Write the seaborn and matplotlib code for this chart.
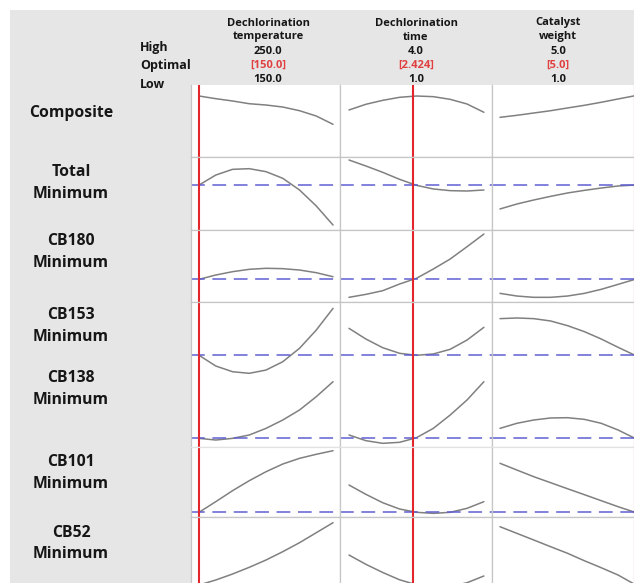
"""
Response optimizer style chart: optimal settings for the dechlorination factors.
"""

import matplotlib
matplotlib.use("Agg")
import matplotlib.pyplot as plt
import seaborn as sns
from matplotlib.patches import Rectangle

sns.set_style("white")
plt.rcParams['font.family'] = ['Open Sans', 'DejaVu Sans']

# Factors
factor_names = ["Dechlorination\ntemperature", "Dechlorination\ntime", "Catalyst\nweight"]
factor_high = ["250.0", "4.0", "5.0"]
factor_opt = ["[150.0]", "[2.424]", "[5.0]"]
factor_low = ["150.0", "1.0", "1.0"]
optimal_x = [150.0, 2.424, 5.0]

# x positions along each factor range
temp_x = [150, 162.5, 175, 187.5, 200, 212.5, 225, 237.5, 250]
time_x = [1.0, 1.375, 1.75, 2.125, 2.5, 2.875, 3.25, 3.625, 4.0]
weight_x = [1.0, 1.5, 2.0, 2.5, 3.0, 3.5, 4.0, 4.5, 5.0]
factor_x = [temp_x, time_x, weight_x]

# Responses (scaled 0-1 within each row), one list per factor
response_names = ["Composite", "Total\nMinimum", "CB180\nMinimum", "CB153\nMinimum",
                  "CB138\nMinimum", "CB101\nMinimum", "CB52\nMinimum"]

composite = [
    [0.847, 0.810, 0.778, 0.740, 0.722, 0.694, 0.643, 0.569, 0.454],
    [0.653, 0.732, 0.787, 0.829, 0.847, 0.838, 0.801, 0.736, 0.621],
    [0.551, 0.579, 0.611, 0.643, 0.681, 0.718, 0.760, 0.806, 0.851],
]
total = [
    [0.616, 0.753, 0.831, 0.840, 0.799, 0.708, 0.548, 0.329, 0.068],
    [0.959, 0.877, 0.790, 0.694, 0.612, 0.562, 0.539, 0.534, 0.548],
    [0.288, 0.356, 0.411, 0.461, 0.507, 0.543, 0.575, 0.603, 0.616],
]
cb180 = [
    [0.315, 0.375, 0.421, 0.454, 0.468, 0.463, 0.444, 0.407, 0.351],
    [0.065, 0.106, 0.157, 0.250, 0.329, 0.458, 0.597, 0.768, 0.944],
    [0.120, 0.083, 0.065, 0.065, 0.083, 0.120, 0.176, 0.245, 0.315],
]
cb153 = [
    [0.270, 0.123, 0.045, 0.023, 0.068, 0.182, 0.366, 0.616, 0.913],
    [0.639, 0.493, 0.374, 0.297, 0.270, 0.288, 0.352, 0.479, 0.653],
    [0.772, 0.781, 0.772, 0.740, 0.676, 0.594, 0.493, 0.379, 0.270],
]
cb138 = [
    [0.120, 0.097, 0.120, 0.167, 0.259, 0.375, 0.514, 0.699, 0.907],
    [0.167, 0.088, 0.051, 0.065, 0.129, 0.259, 0.444, 0.653, 0.907],
    [0.259, 0.329, 0.375, 0.403, 0.407, 0.384, 0.329, 0.236, 0.120],
]
cb101 = [
    [0.067, 0.219, 0.376, 0.519, 0.647, 0.757, 0.838, 0.896, 0.947],
    [0.457, 0.324, 0.204, 0.114, 0.067, 0.052, 0.067, 0.124, 0.219],
    [0.767, 0.671, 0.576, 0.490, 0.404, 0.319, 0.233, 0.147, 0.067],
]
cb52 = [
    [0.068, 0.137, 0.219, 0.311, 0.411, 0.525, 0.648, 0.785, 0.922],
    [0.479, 0.352, 0.240, 0.140, 0.072, 0.040, 0.045, 0.100, 0.192],
    [0.867, 0.776, 0.685, 0.593, 0.503, 0.401, 0.305, 0.205, 0.075],
]
responses = [composite, total, cb180, cb153, cb138, cb101, cb52]

# current response value at the optimal setting (dashed line)
current_y = [None, 0.616, 0.315, 0.270, 0.120, 0.067, 0.068]

# Layout in pixels
W, H = 634, 583
col_edges = [191, 340, 492, 644]
row_edges = [85, 157, 230, 302, 375, 447, 517, 590]
x_limits = [(144.0, 255.2), (0.8, 4.18), (0.763, 5.267)]
header_cx = [268, 416, 558]
label_y = [(113,), (172, 194), (241, 263), (315, 337), (378, 400), (462, 484), (533, 554)]

GREY_BG = '#e6e6e6'
CURVE = '#808080'
RED = '#e3262b'
BLUE = '#5f5fd2'
GRID = '#c6c6c6'
INK = '#161616'


def fx(x):
    return x / W


def fy(y):
    return 1 - y / H


fig = plt.figure(figsize=(W / 100, H / 100), dpi=100)
fig.patch.set_facecolor('white')
bg = Rectangle((fx(10), 0), 1, fy(10), transform=fig.transFigure,
               facecolor=GREY_BG, edgecolor='none', zorder=-10)
fig.add_artist(bg)

for r, resp in enumerate(responses):
    for c in range(3):
        left, right = col_edges[c], col_edges[c + 1]
        top, bottom = row_edges[r], row_edges[r + 1]
        ax = fig.add_axes([fx(left), fy(bottom), (right - left) / W, (bottom - top) / H])
        ax.set_facecolor('white')
        sns.lineplot(x=factor_x[c], y=resp[c], ax=ax, color=CURVE, linewidth=1.1,
                     errorbar=None)
        if current_y[r] is not None:
            ax.axhline(current_y[r], color=BLUE, linewidth=1.1, linestyle=(0, (9, 5)))
        ax.axvline(optimal_x[c], color=RED, linewidth=1.5)
        ax.set_xlim(*x_limits[c])
        ax.set_ylim(0, 1)
        ax.set_xticks([])
        ax.set_yticks([])
        ax.set_xlabel('')
        ax.set_ylabel('')
        for side in ax.spines.values():
            side.set_color(GRID)
            side.set_linewidth(0.9)
        if r == 0:
            ax.spines['top'].set_visible(False)
        if r == 3:
            ax.spines['bottom'].set_visible(False)
        if r == 4:
            ax.spines['top'].set_visible(False)
            ax.spines['bottom'].set_color('#e2e2e2')
        if r == 5:
            ax.spines['top'].set_color('#e2e2e2')

# Row labels
for r, name in enumerate(response_names):
    for line, y in zip(name.split('\n'), label_y[r]):
        fig.text(fx(71), fy(y), line, ha='center', va='center',
                 fontsize=11.3, fontweight='bold', color=INK)

# Header labels
for label, y in [("High", 47), ("Optimal", 66), ("Low", 84)]:
    fig.text(fx(140), fy(y), label, ha='left', va='center',
             fontsize=9, fontweight='bold', color=INK)

for c in range(3):
    n1, n2 = factor_names[c].split('\n')
    cx = fx(header_cx[c])
    fig.text(cx, fy(23), n1, ha='center', va='center', fontsize=8,
             fontweight='bold', color=INK)
    fig.text(cx, fy(37), n2, ha='center', va='center', fontsize=8,
             fontweight='bold', color=INK)
    fig.text(cx, fy(51), factor_high[c], ha='center', va='center', fontsize=8,
             fontweight='bold', color=INK)
    fig.text(cx, fy(65), factor_opt[c], ha='center', va='center', fontsize=8,
             fontweight='bold', color='#e04040')
    fig.text(cx, fy(79), factor_low[c], ha='center', va='center', fontsize=8,
             fontweight='bold', color=INK)

fig.savefig("out.png", dpi=100)
plt.close(fig)
